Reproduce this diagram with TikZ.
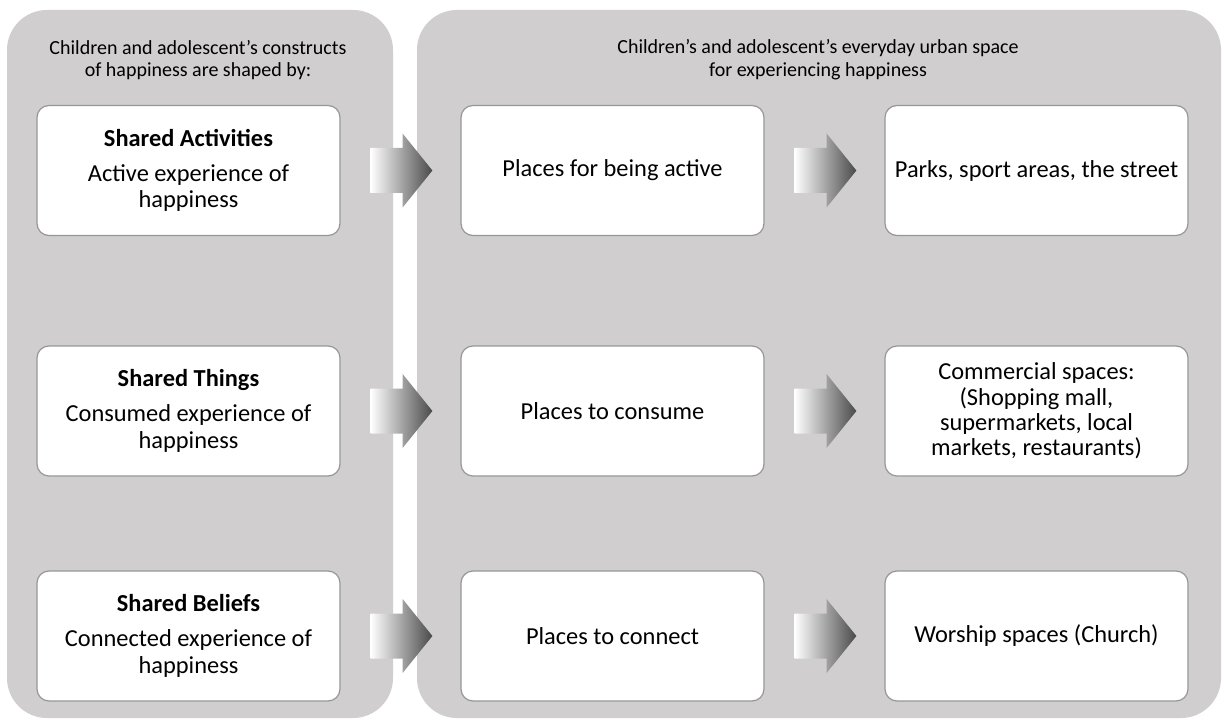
\documentclass[tikz,border=0pt]{standalone}
\usepackage{fontspec}
\setmainfont{Carlito}
\usetikzlibrary{calc}
\definecolor{panelgray}{HTML}{D0CECE}
\definecolor{boxline}{HTML}{979797}
\definecolor{arrowdark}{HTML}{4A4A4A}
\newcommand{\barrow}[2]{%
  \shade[left color=white, right color=arrowdark]
    ([xshift=30pt,yshift=22.5pt]#1.east) -- ([xshift=62pt,yshift=22.5pt]#1.east)
    -- ([xshift=62pt,yshift=37pt]#1.east) -- ([xshift=-28pt]#2.west)
    -- ([xshift=62pt,yshift=-37pt]#1.east) -- ([xshift=62pt,yshift=-22.5pt]#1.east)
    -- ([xshift=30pt,yshift=-22.5pt]#1.east) -- cycle;}
\tikzset{
  panel/.style={fill=panelgray, draw=none, rounded corners=40pt},
  card/.style={draw=boxline, line width=1.2pt, fill=white, rounded corners=12pt,
    minimum width=303pt, minimum height=130pt, inner sep=0pt, align=center,
    font=\fontsize{24.4}{25.3}\selectfont},
  lcard/.style={card, font=\fontsize{24.4}{26.5}\selectfont},
  title/.style={align=center, inner sep=0pt, font=\fontsize{20}{22.8}\selectfont}
}
\begin{document}
\begin{tikzpicture}[x=1pt,y=-1pt]
\useasboundingbox (0,0) rectangle (1223,719);
\fill[white] (0,0) rectangle (1223,719);
% panels
\path[panel] (7,10) rectangle (393,718);
\path[panel] (417,10) rectangle (1221,718);
% titles
\node[title] (tl) at (198,60) {Children and adolescent’s constructs\\of happiness are shaped by:};
\node[title] (tr) at (818,60) {Children’s and adolescent’s everyday urban space\\for experiencing happiness};
% left column
\node[lcard] (l1) at (188.5,170.5) {\textbf{Shared Activities}\\[8.5pt]Active experience of\\happiness};
\node[lcard] (l2) at (188.5,411) {\textbf{Shared Things}\\[8.5pt]Consumed experience of\\happiness};
\node[lcard] (l3) at (188.5,636) {\textbf{Shared Beliefs}\\[8.5pt]Connected experience of\\happiness};
% middle column
\node[card] (m1) at (612.5,170.5) {Places for being active};
\node[card] (m2) at (612.5,411) {Places to consume};
\node[card] (m3) at (612.5,636) {Places to connect};
% right column
\node[card] (r1) at (1036.5,170.5) {Parks, sport areas, the street};
\node[card] (r2) at (1036.5,411) {Commercial spaces:\\(Shopping mall,\\supermarkets, local\\markets, restaurants)};
\node[card] (r3) at (1036.5,636) {Worship spaces (Church)};
% arrows
\barrow{l1}{m1}
\barrow{l2}{m2}
\barrow{l3}{m3}
\barrow{m1}{r1}
\barrow{m2}{r2}
\barrow{m3}{r3}
\end{tikzpicture}
\end{document}
